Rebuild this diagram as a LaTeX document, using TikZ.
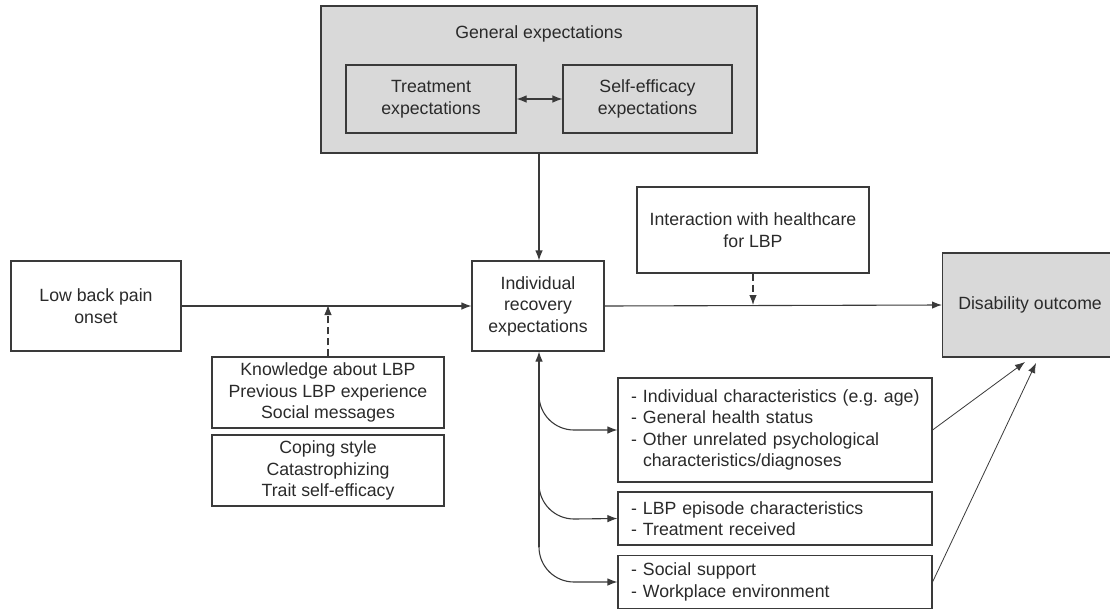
\documentclass[tikz,border=0pt]{standalone}
\usepackage{fontspec}
\setmainfont{Liberation Sans}
\usetikzlibrary{arrows.meta}
\definecolor{boxgray}{HTML}{D9D9D9}
\definecolor{linecol}{HTML}{3A3A3A}
\definecolor{txtcol}{HTML}{2A2A2A}
\newcommand{\bul}[1]{\mbox{\makebox[12pt][l]{-}#1}}
\newcommand{\cont}[1]{\mbox{\hspace*{12pt}#1}}
\frenchspacing
\begin{document}
\begin{tikzpicture}[x=1pt,y=-1pt,
  every node/.style={font=\fontsize{17.7}{21.5}\selectfont, text=txtcol},
  bx/.style={draw=linecol, line width=1.1pt, align=center, inner sep=0pt},
  gbx/.style={bx, fill=boxgray},
  conn/.style={draw=linecol, line width=1.1pt, -{Latex[length=10pt,width=7.5pt]}},
  dconn/.style={conn, dash pattern=on 7pt off 4pt},
  listbx/.style={bx, text width=288pt, inner xsep=13pt, inner ysep=0pt, align=left}]
\useasboundingbox (0,0) rectangle (1110,608);
\fill[white] (0,0) rectangle (1110,608);

% general expectations
\node[gbx, minimum width=436pt, minimum height=147pt] (gen) at (539,79.5) {};
\node (gentitle) at (539,34) {General expectations};
\node[gbx, minimum width=170pt, minimum height=68pt] (treat) at (431,99) {Treatment\\expectations};
\node[gbx, minimum width=169pt, minimum height=68pt] (self) at (647.5,99) {Self-efficacy\\expectations};
\draw[conn, {Latex[length=10pt,width=7.5pt]}-{Latex[length=10pt,width=7.5pt]}] (treat) -- (self);

% main row
\node[bx, minimum width=170pt, minimum height=90pt] (lbp) at (96,306) {Low back pain\\onset};
\node[bx, minimum width=132pt, minimum height=90pt] (ind) at (538,306) {Individual\\recovery\\expectations};
\node[bx, minimum width=232pt, minimum height=86pt] (inter) at (753,230) {Interaction with healthcare\\for LBP};
\node[gbx, minimum width=175pt, minimum height=104pt, anchor=west] (dis) at (942,305) {Disability outcome};

% moderators
\node[bx, minimum width=232pt, minimum height=71pt] (know) at (328,392.5) {Knowledge about LBP\\Previous LBP experience\\Social messages};
\node[bx, minimum width=232pt, minimum height=71pt] (cope) at (328,470.5) {Coping style\\Catastrophizing\\Trait self-efficacy};

% lists
\node[listbx, minimum height=104pt] (c1) at (775,430) {\bul{Individual characteristics (e.g. age)}\\\bul{General health status}\\\bul{Other unrelated psychological}\\\cont{characteristics/diagnoses}};
\node[listbx, minimum height=53pt] (c2) at (775,518.5) {\bul{LBP episode characteristics}\\\bul{Treatment received}};
\node[listbx, minimum height=53pt] (c3) at (775,582) {\bul{Social support}\\\bul{Workplace environment}};

% coordinates
\coordinate (j1) at (328,305);
\coordinate (j2) at (753,305);
\coordinate (vb) at (539,547);
\coordinate (b1) at (539,395);
\coordinate (b1e) at (574,430);
\coordinate (b2) at (539,484);
\coordinate (b2e) at (574,519);
\coordinate (b3e) at (574,582);
\coordinate (t1) at (1025,362);
\coordinate (t2) at (1036,363);

% connectors
\draw[conn] (gen.south) -- (gen.south |- ind.north);
\draw[conn] (lbp.east) -- (ind.west);
\draw[dconn] (know.north) -- (j1);
\draw[conn] (ind.east) -- (dis.west);
\draw[dconn] (inter.south) -- (j2);
\draw[conn] (vb) -- (vb |- ind.south);
\draw[conn] (b1) to[out=-90,in=180] (b1e) -- (c1.west);
\draw[conn] (b2) to[out=-90,in=180] (b2e) -- (c2.west);
\draw[conn] (vb) to[out=-90,in=180] (b3e) -- (c3.west);
\draw[conn, line width=0.8pt] (c1.east) -- (t1);
\draw[conn, line width=0.8pt] (c3.east) -- (t2);
\end{tikzpicture}
\end{document}
